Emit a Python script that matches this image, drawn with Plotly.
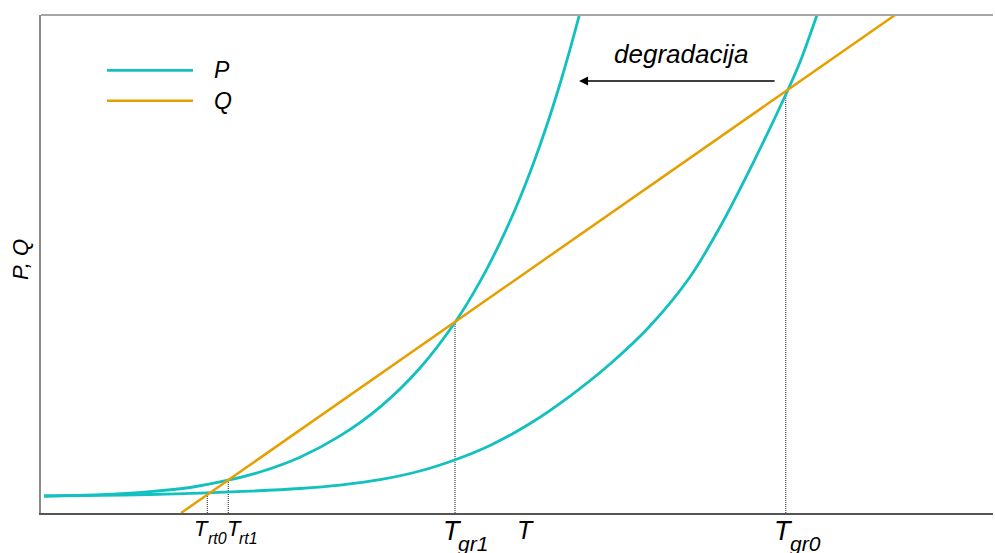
import numpy as np
import plotly.graph_objects as go

# ---- data (T in arbitrary units 0..100, P/Q in arbitrary units 0..100) ----
T_p0 = [0.32, 6.20, 11.45, 16.70, 21.95, 27.21, 31.41, 35.61, 39.81, 43.59, 47.16,
        51.37, 55.57, 59.77, 63.97, 68.17, 71.32, 74.79, 78.26, 79.73, 81.51, 82.46]
P0 = [3.41, 3.53, 3.71, 4.00, 4.38, 4.92, 5.60, 6.69, 8.43, 10.74, 13.55,
      17.97, 23.49, 29.92, 37.55, 47.39, 57.43, 70.28, 84.14, 90.56, 100.0, 105.42]

T_p1 = [0.32, 6.20, 11.45, 15.65, 19.75, 23.00, 27.21, 31.41, 35.61, 39.81, 43.59,
        46.11, 48.21, 50.32, 52.42, 54.52, 56.62, 57.67]
P1 = [3.41, 3.67, 4.28, 5.12, 6.63, 8.23, 11.20, 15.48, 21.27, 29.12, 38.55,
      46.45, 54.24, 63.31, 73.90, 86.20, 100.50, 108.59]

T_q = [14.71, 89.71, 92.71]
Q = [0.0, 100.0, 104.0]

T_marks = [17.47, 19.67, 43.49, 78.23]
mark_main = ["T", "T", "T", "T"]
mark_subs = ["rt0", "rt1", "gr1", "gr0"]
main_font = [22, 22, 27, 27]
sub_font = [16, 16, 21, 21]
main_shift = [-15, -3, -14, -14]
sub_xshift = [-1, 9, 1, 2]
sub_yshift = [-15, -15, -17, -17]

TEAL = "#13C0C0"
ORANGE = "#E69F00"
FONT = "Liberation Sans, Arial, sans-serif"

fig = go.Figure()

# dotted vertical guides up to Q(T)
for t in T_marks:
    qv = float(np.interp(t, T_q, Q))
    fig.add_trace(go.Scatter(x=[t, t], y=[0, qv], mode="lines",
                             line=dict(color="#333333", width=1.1, dash="1px,1px"),
                             hoverinfo="skip", showlegend=False))

fig.add_trace(go.Scatter(x=T_p0, y=P0, mode="lines", line=dict(color=TEAL, width=2.8, shape="spline", smoothing=0.8),
                         showlegend=False, name="P"))
fig.add_trace(go.Scatter(x=T_p1, y=P1, mode="lines", line=dict(color=TEAL, width=2.8, shape="spline", smoothing=0.8),
                         showlegend=False, name="P"))
fig.add_trace(go.Scatter(x=T_q, y=Q, mode="lines", line=dict(color=ORANGE, width=2.5),
                         showlegend=False, name="Q"))

annotations = []
for t, m, s, mf, sf, ms, sx, sy in zip(T_marks, mark_main, mark_subs, main_font, sub_font,
                                       main_shift, sub_xshift, sub_yshift):
    annotations.append(dict(x=t, xref="x", y=0, yref="paper", yanchor="top", xanchor="left",
                            xshift=ms, yshift=-1, text="<i>" + m + "</i>", showarrow=False,
                            font=dict(family=FONT, size=mf, color="black")))
    annotations.append(dict(x=t, xref="x", y=0, yref="paper", yanchor="top", xanchor="left",
                            xshift=sx, yshift=sy, text="<i>" + s + "</i>", showarrow=False,
                            font=dict(family=FONT, size=sf, color="black")))
# axis label T
annotations.append(dict(x=50.84, xref="x", y=0, yref="paper", yanchor="top", xanchor="center",
                        yshift=-1, text="<i>T</i>", showarrow=False,
                        font=dict(family=FONT, size=25, color="black")))
# y label
annotations.append(dict(x=-0.022, xref="paper", y=0.508, yref="paper", xanchor="center", yanchor="middle",
                        text="<i>P, Q</i>", textangle=-90, showarrow=False,
                        font=dict(family=FONT, size=22, color="black")))
# degradacija
annotations.append(dict(x=0.672, xref="paper", y=0.9217, yref="paper", xanchor="center", yanchor="middle",
                        text="<i>degradacija</i>", showarrow=False,
                        font=dict(family=FONT, size=26, color="black")))
# arrow
annotations.append(dict(x=0.5652, xref="paper", y=0.8675, yref="paper", ax=197, ay=0, axref="pixel", ayref="pixel",
                        text="", showarrow=True, arrowhead=2, arrowsize=1.2, arrowwidth=1.5, arrowcolor="black"))
# legend texts
annotations.append(dict(x=0.1796, xref="paper", y=0.889, yref="paper", xanchor="left", yanchor="middle",
                        text="<i>P</i>", showarrow=False, font=dict(family=FONT, size=23, color="black")))
annotations.append(dict(x=0.1796, xref="paper", y=0.828, yref="paper", xanchor="left", yanchor="middle",
                        text="<i>Q</i>", showarrow=False, font=dict(family=FONT, size=23, color="black")))

shapes = [
    dict(type="line", xref="paper", yref="paper", x0=0.0693, x1=0.1597, y0=0.889, y1=0.889,
         line=dict(color=TEAL, width=2.8)),
    dict(type="line", xref="paper", yref="paper", x0=0.0693, x1=0.1597, y0=0.828, y1=0.828,
         line=dict(color=ORANGE, width=2.5)),
    dict(type="line", xref="paper", yref="paper", x0=0, x1=1, y0=1, y1=1,
         line=dict(color="#a6a6a6", width=2)),
]

fig.update_layout(
    width=995, height=553,
    margin=dict(l=41, r=2, t=15, b=40),
    paper_bgcolor="white", plot_bgcolor="white",
    xaxis=dict(range=[0, 100], showgrid=False, zeroline=False, showticklabels=False, ticks="",
               showline=True, linecolor="#555555", linewidth=1.6),
    yaxis=dict(range=[0, 100], showgrid=False, zeroline=False, showticklabels=False, ticks="",
               showline=True, linecolor="#8a8a8a", linewidth=1.6),
    annotations=annotations, shapes=shapes,
    showlegend=False,
)

fig.write_html("out.html", config={"displayModeBar": False},
               post_script="document.body.style.margin='0px';document.body.style.overflow='hidden';")
